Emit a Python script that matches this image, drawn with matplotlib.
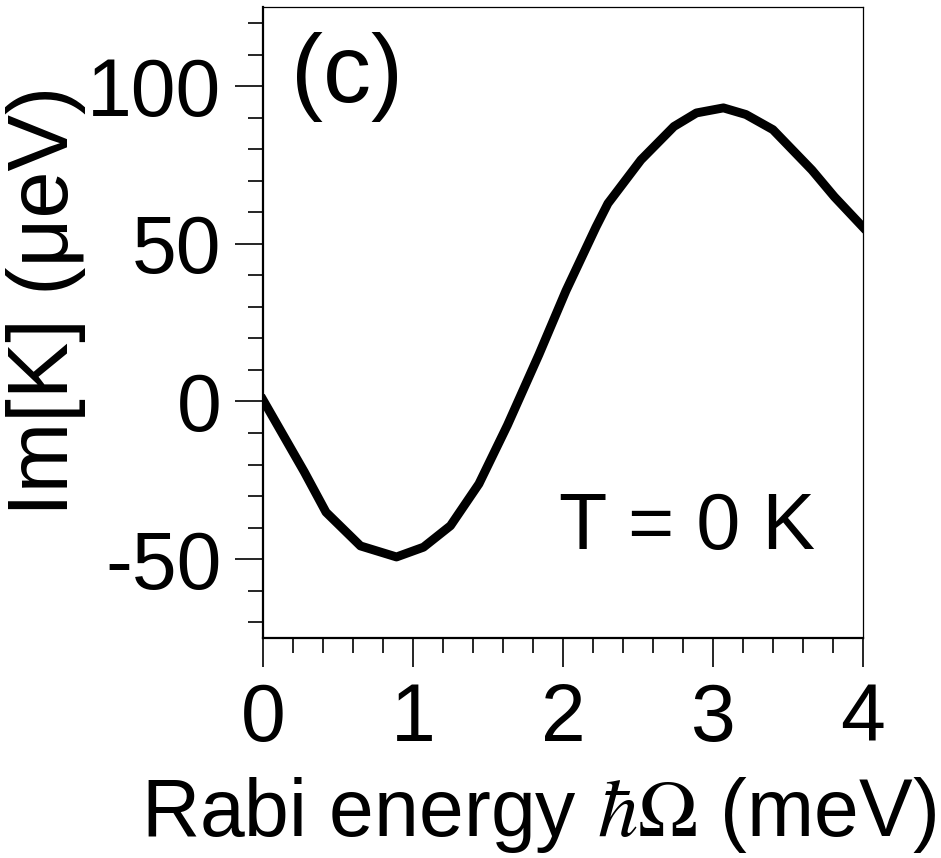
import matplotlib
matplotlib.use("Agg")
import matplotlib.pyplot as plt
from matplotlib.ticker import MultipleLocator

# Im[K] versus Rabi energy at T = 0 K
rabi_energy = [0.00, 0.275, 0.42, 0.65, 0.89, 1.07, 1.25, 1.44, 1.63, 1.84,
               2.02, 2.22, 2.30, 2.52, 2.74, 2.89, 3.07, 3.22, 3.40, 3.66,
               3.81, 4.00]
im_k = [0.5, -22.3, -35.1, -45.8, -49.3, -46.2, -39.4, -26.1, -7.5, 14.9,
        35.1, 55.3, 62.8, 76.6, 87.2, 91.5, 93.1, 91.0, 86.2, 73.4,
        64.9, 55.3]

x_ticks = [0, 1, 2, 3, 4]
y_ticks = [-50, 0, 50, 100]

plt.rcParams["font.family"] = ["Liberation Sans", "DejaVu Sans"]
plt.rcParams["mathtext.fontset"] = "stix"
plt.rcParams["axes.unicode_minus"] = False

fig = plt.figure(figsize=(9.41, 8.58), dpi=100)
ax = fig.add_axes([0.2795, 0.2564, 0.6375, 0.7351])

ax.plot(rabi_energy, im_k, color="black", lw=6.4)

ax.set_xlim(0, 4)
ax.set_ylim(-75, 125)
ax.set_xticks(x_ticks)
ax.set_yticks(y_ticks)
ax.xaxis.set_minor_locator(MultipleLocator(0.2))
ax.yaxis.set_minor_locator(MultipleLocator(10))

ax.tick_params(which="major", direction="out", length=20, width=1.2,
               labelsize=58, pad=10)
ax.tick_params(which="minor", direction="out", length=11, width=1.2)
ax.tick_params(axis="x", which="major", length=21, pad=11)

for side in ("left", "bottom"):
    ax.spines[side].set_linewidth(1.6)
for side in ("top", "right"):
    ax.spines[side].set_linewidth(0.9)

ax.set_xlabel(r"Rabi energy $\hbar\Omega$ (meV)", fontsize=58, va="baseline")
ax.xaxis.set_label_coords(0.46, -0.314)
ax.set_ylabel("Im[K] (μeV)", fontsize=61, va="center")
ax.yaxis.set_label_coords(-0.362, 0.535)

ax.text(0.14, 0.889, "(c)", transform=ax.transAxes, fontsize=69,
        ha="center", va="center")
ax.text(2.83, -46.8, "T = 0 K", fontsize=57, ha="center", va="baseline")

fig.savefig("out.png", dpi=100)
